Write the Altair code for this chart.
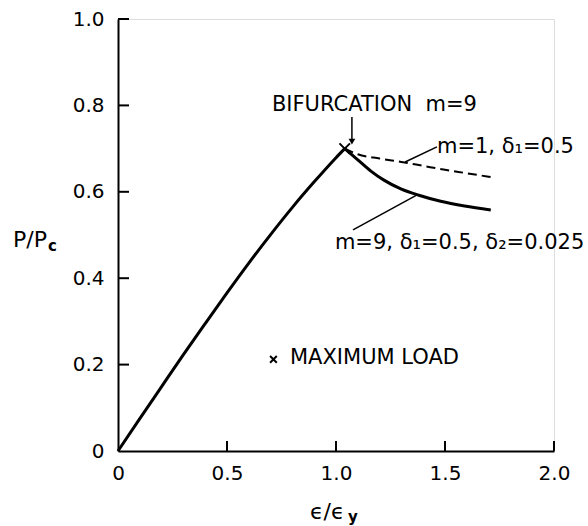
import altair as alt
import pandas as pd

# Rising branch up to the bifurcation point
rise_x = [0.0, 0.1, 0.2, 0.3, 0.4, 0.5, 0.6, 0.7, 0.8, 0.9, 1.0, 1.04]
rise_y = [0.0, 0.075, 0.149, 0.223, 0.295, 0.366, 0.435, 0.501, 0.564, 0.623, 0.679, 0.70]

# Post-bifurcation branch, m=9, d1=0.5, d2=0.025 (solid)
m9_x = [1.04, 1.1, 1.16, 1.22, 1.3, 1.38, 1.48, 1.59, 1.71]
m9_y = [0.70, 0.674, 0.648, 0.627, 0.606, 0.592, 0.578, 0.567, 0.558]

# Post-bifurcation branch, m=1, d1=0.5 (dashed)
m1_x = [1.04, 1.1, 1.2, 1.3, 1.4, 1.5, 1.6, 1.71]
m1_y = [0.70, 0.687, 0.677, 0.669, 0.660, 0.651, 0.643, 0.634]

# Maximum load marker
peak_x = [1.04]
peak_y = [0.70]

x_ticks = [0.0, 0.5, 1.0, 1.5, 2.0]
y_ticks = [0.0, 0.2, 0.4, 0.6, 0.8, 1.0]

FONT = "DejaVu Sans"
W, H = 436, 432

xs = alt.Scale(domain=[0, 2], nice=False, zero=False)
ys = alt.Scale(domain=[0, 1], nice=False, zero=False)

label_expr = "datum.value == 0 ? '0' : format(datum.value, '.1f')"
x_axis = alt.Axis(values=x_ticks, labelExpr=label_expr, tickSize=0, grid=False,
                  domainColor="black", domainWidth=2, labelFont=FONT, labelFontSize=20,
                  labelColor="black", labelPadding=12, labelFlush=False, title=None)
y_axis = alt.Axis(values=y_ticks, labelExpr=label_expr, tickSize=0, grid=False,
                  domainColor="black", domainWidth=2, labelFont=FONT, labelFontSize=20,
                  labelColor="black", labelPadding=14, labelFlush=False, title=None)


def curve(xv, yv):
    return pd.DataFrame({"x": xv, "y": yv, "i": range(len(xv))})


rise = alt.Chart(curve(rise_x, rise_y)).mark_line(
    color="black", strokeWidth=3, interpolate="monotone"
).encode(
    x=alt.X("x:Q", scale=xs, axis=x_axis),
    y=alt.Y("y:Q", scale=ys, axis=y_axis),
    order="i:Q",
)
branch_m9 = alt.Chart(curve(m9_x, m9_y)).mark_line(
    color="black", strokeWidth=3, interpolate="monotone"
).encode(x=alt.X("x:Q", scale=xs), y=alt.Y("y:Q", scale=ys), order="i:Q")
branch_m1 = alt.Chart(curve(m1_x, m1_y)).mark_line(
    color="black", strokeWidth=2, strokeDash=[9, 5], interpolate="monotone"
).encode(x=alt.X("x:Q", scale=xs), y=alt.Y("y:Q", scale=ys), order="i:Q")

cross_path = "M-1,-1L1,1M1,-1L-1,1"
peak = alt.Chart(pd.DataFrame({"x": peak_x, "y": peak_y})).mark_point(
    shape=cross_path, size=110, color="black", strokeWidth=2, filled=False, opacity=1
).encode(x=alt.X("x:Q", scale=xs), y=alt.Y("y:Q", scale=ys))

# Inward tick marks on both axes
xt = alt.Chart(pd.DataFrame({"v": x_ticks[1:]})).mark_rule(color="black", strokeWidth=2).encode(
    x=alt.X("v:Q", scale=xs), y=alt.value(H), y2=alt.value(H - 10)
)
yt = alt.Chart(pd.DataFrame({"v": y_ticks[1:]})).mark_rule(color="black", strokeWidth=2).encode(
    y=alt.Y("v:Q", scale=ys), x=alt.value(0), x2=alt.value(11)
)

# Leader lines from labels to curves, and the bifurcation arrow
leaders = pd.DataFrame({
    "x": [1.317, 1.078, 1.073],
    "y": [0.669, 0.512, 0.773],
    "x2": [1.463, 1.372, 1.073],
    "y2": [0.704, 0.593, 0.722],
})
leader_rules = alt.Chart(leaders).mark_rule(color="black", strokeWidth=1.5).encode(
    x=alt.X("x:Q", scale=xs), y=alt.Y("y:Q", scale=ys), x2="x2:Q", y2="y2:Q"
)
arrow_head = alt.Chart(pd.DataFrame({"x": [1.073], "y": [0.716]})).mark_point(
    shape="triangle-down", size=45, color="black", filled=True, opacity=1
).encode(x=alt.X("x:Q", scale=xs), y=alt.Y("y:Q", scale=ys))

notes = pd.DataFrame({
    "t": ["BIFURCATION\u00a0\u00a0m=9", "m=1, δ₁=0.5", "m=9, δ₁=0.5, δ₂=0.025", "MAXIMUM LOAD"],
    "x": [0.706, 1.463, 0.995, 0.789],
    "y": [0.801, 0.704, 0.481, 0.215],
})
note_text = alt.Chart(notes).mark_text(
    align="left", baseline="middle", font=FONT, fontSize=21, color="black"
).encode(x=alt.X("x:Q", scale=xs), y=alt.Y("y:Q", scale=ys), text="t:N")

legend_cross = alt.Chart(pd.DataFrame({"x": [0.713], "y": [0.212]})).mark_point(
    shape=cross_path, size=45, color="black", strokeWidth=2, filled=False, opacity=1
).encode(x=alt.X("x:Q", scale=xs), y=alt.Y("y:Q", scale=ys))

# Axis titles with subscripts
title_main = alt.Chart(pd.DataFrame({"t": ["P/P", "ϵ/ϵ"], "px": [-105, 192], "py": [221, 493]})).mark_text(
    align="left", baseline="middle", font=FONT, fontSize=22, color="black"
).encode(x=alt.X("px:Q", scale=None), y=alt.Y("py:Q", scale=None), text="t:N")
title_sub = alt.Chart(pd.DataFrame({"t": ["c", "y"], "px": [-70, 230], "py": [227, 498]})).mark_text(
    align="left", baseline="middle", font=FONT, fontSize=15, color="black", fontWeight="bold"
).encode(x=alt.X("px:Q", scale=None), y=alt.Y("py:Q", scale=None), text="t:N")

chart = alt.layer(
    rise, branch_m9, branch_m1, peak, xt, yt, leader_rules, arrow_head,
    note_text, legend_cross, title_main, title_sub,
).properties(
    width=W, height=H,
    autosize=alt.AutoSizeParams(type="none"),
    padding={"left": 118, "top": 19, "right": 34, "bottom": 75},
).configure_view(stroke=None).configure(background="white")

chart.save("out.html", embed_options={"renderer": "svg", "actions": False})
